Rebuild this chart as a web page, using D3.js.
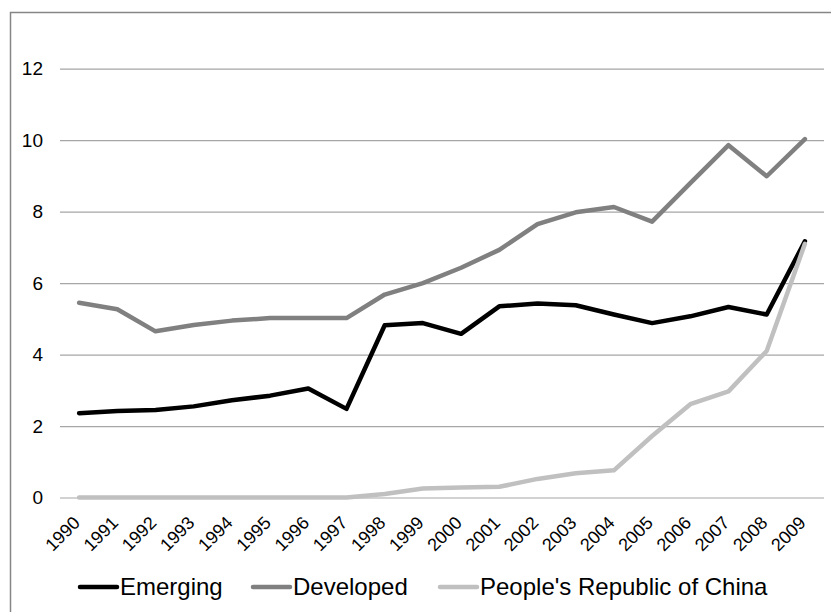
<!DOCTYPE html>
<html>
<head>
<meta charset="utf-8">
<script src="https://cdn.jsdelivr.net/npm/d3@7"></script>
<style>
  body { margin: 0; background: #fff; }
  svg { display: block; font-family: 'Liberation Sans', Arial, sans-serif; }
</style>
</head>
<body>
<svg width="831" height="612"></svg>
<script>
let years = d3.range(1990, 2010)
let emerging = [2.36, 2.42, 2.45, 2.55, 2.72, 2.85, 3.05, 2.48, 4.82, 4.88, 4.58, 5.35, 5.43, 5.38, 5.12, 4.88, 5.07, 5.33, 5.12, 7.17]
let developed = [5.45, 5.27, 4.65, 4.83, 4.95, 5.02, 5.02, 5.02, 5.68, 6.0, 6.43, 6.93, 7.65, 7.98, 8.13, 7.72, 8.8, 9.86, 8.99, 10.03]
let china = [0, 0, 0, 0, 0, 0, 0, 0, 0.1, 0.25, 0.28, 0.3, 0.52, 0.68, 0.76, 1.72, 2.61, 2.97, 4.1, 7.1]
let yTicks = [0, 2, 4, 6, 8, 10, 12]

let series = [
  { name: 'Emerging', values: emerging, color: '#000000' },
  { name: 'Developed', values: developed, color: '#808080' },
  { name: "People's Republic of China", values: china, color: '#c0c0c0' }
]

let svg = d3.select('svg')

// chart area border (cropped on the right and bottom, like the original)
svg.append('rect')
    .attr('x', 10.5)
    .attr('y', 12.5)
    .attr('width', 900)
    .attr('height', 700)
    .attr('fill', 'none')
    .attr('stroke', '#868686')
    .attr('stroke-width', 1.5)

let xScale = d3.scalePoint()
                .domain(years)
                .range([60, 824])
                .padding(0.5)

let yScale = d3.scaleLinear()
                .domain([0, 12])
                .range([497.5, 68.7])

let yAxis = d3.axisLeft(yScale)
              .tickValues(yTicks)
              .tickSize(-(824 - 60))
              .tickPadding(17)

svg.append('g')
    .attr('transform', 'translate(60, 0)')
    .call(yAxis)
    .call(g => g.select('.domain').remove())
    .call(g => g.selectAll('.tick line').attr('stroke', '#a6a6a6').attr('stroke-width', 1.2))
    .call(g => g.selectAll('.tick text').attr('fill', '#000').style('font-size', '19px'))

// rotated year labels
svg.append('g')
  .selectAll('text')
  .data(years)
  .enter()
  .append('text')
    .attr('transform', d => `translate(${xScale(d) + 2}, 524) rotate(-45)`)
    .style('text-anchor', 'end')
    .style('font-size', '18px')
    .text(d => d)

let line = d3.line()
              .x((d, i) => xScale(years[i]))
              .y(d => yScale(d))

svg.append('g')
  .selectAll('path')
  .data(series)
  .enter()
  .append('path')
    .attr('d', d => line(d.values))
    .attr('fill', 'none')
    .attr('stroke', d => d.color)
    .attr('stroke-width', 4.5)
    .attr('stroke-linejoin', 'round')
    .attr('stroke-linecap', 'round')

// legend
let legendX = [80, 253, 440]
let legend = svg.append('g')
  .selectAll('g')
  .data(series)
  .enter()
  .append('g')
    .attr('transform', (d, i) => `translate(${legendX[i]}, 587)`)

legend.append('line')
    .attr('x1', 0)
    .attr('x2', 37)
    .attr('stroke', d => d.color)
    .attr('stroke-width', 4.5)
    .attr('stroke-linecap', 'round')

legend.append('text')
    .attr('x', 40)
    .attr('dy', '0.35em')
    .style('font-size', '24px')
    .text(d => d.name)
</script>
</body>
</html>
